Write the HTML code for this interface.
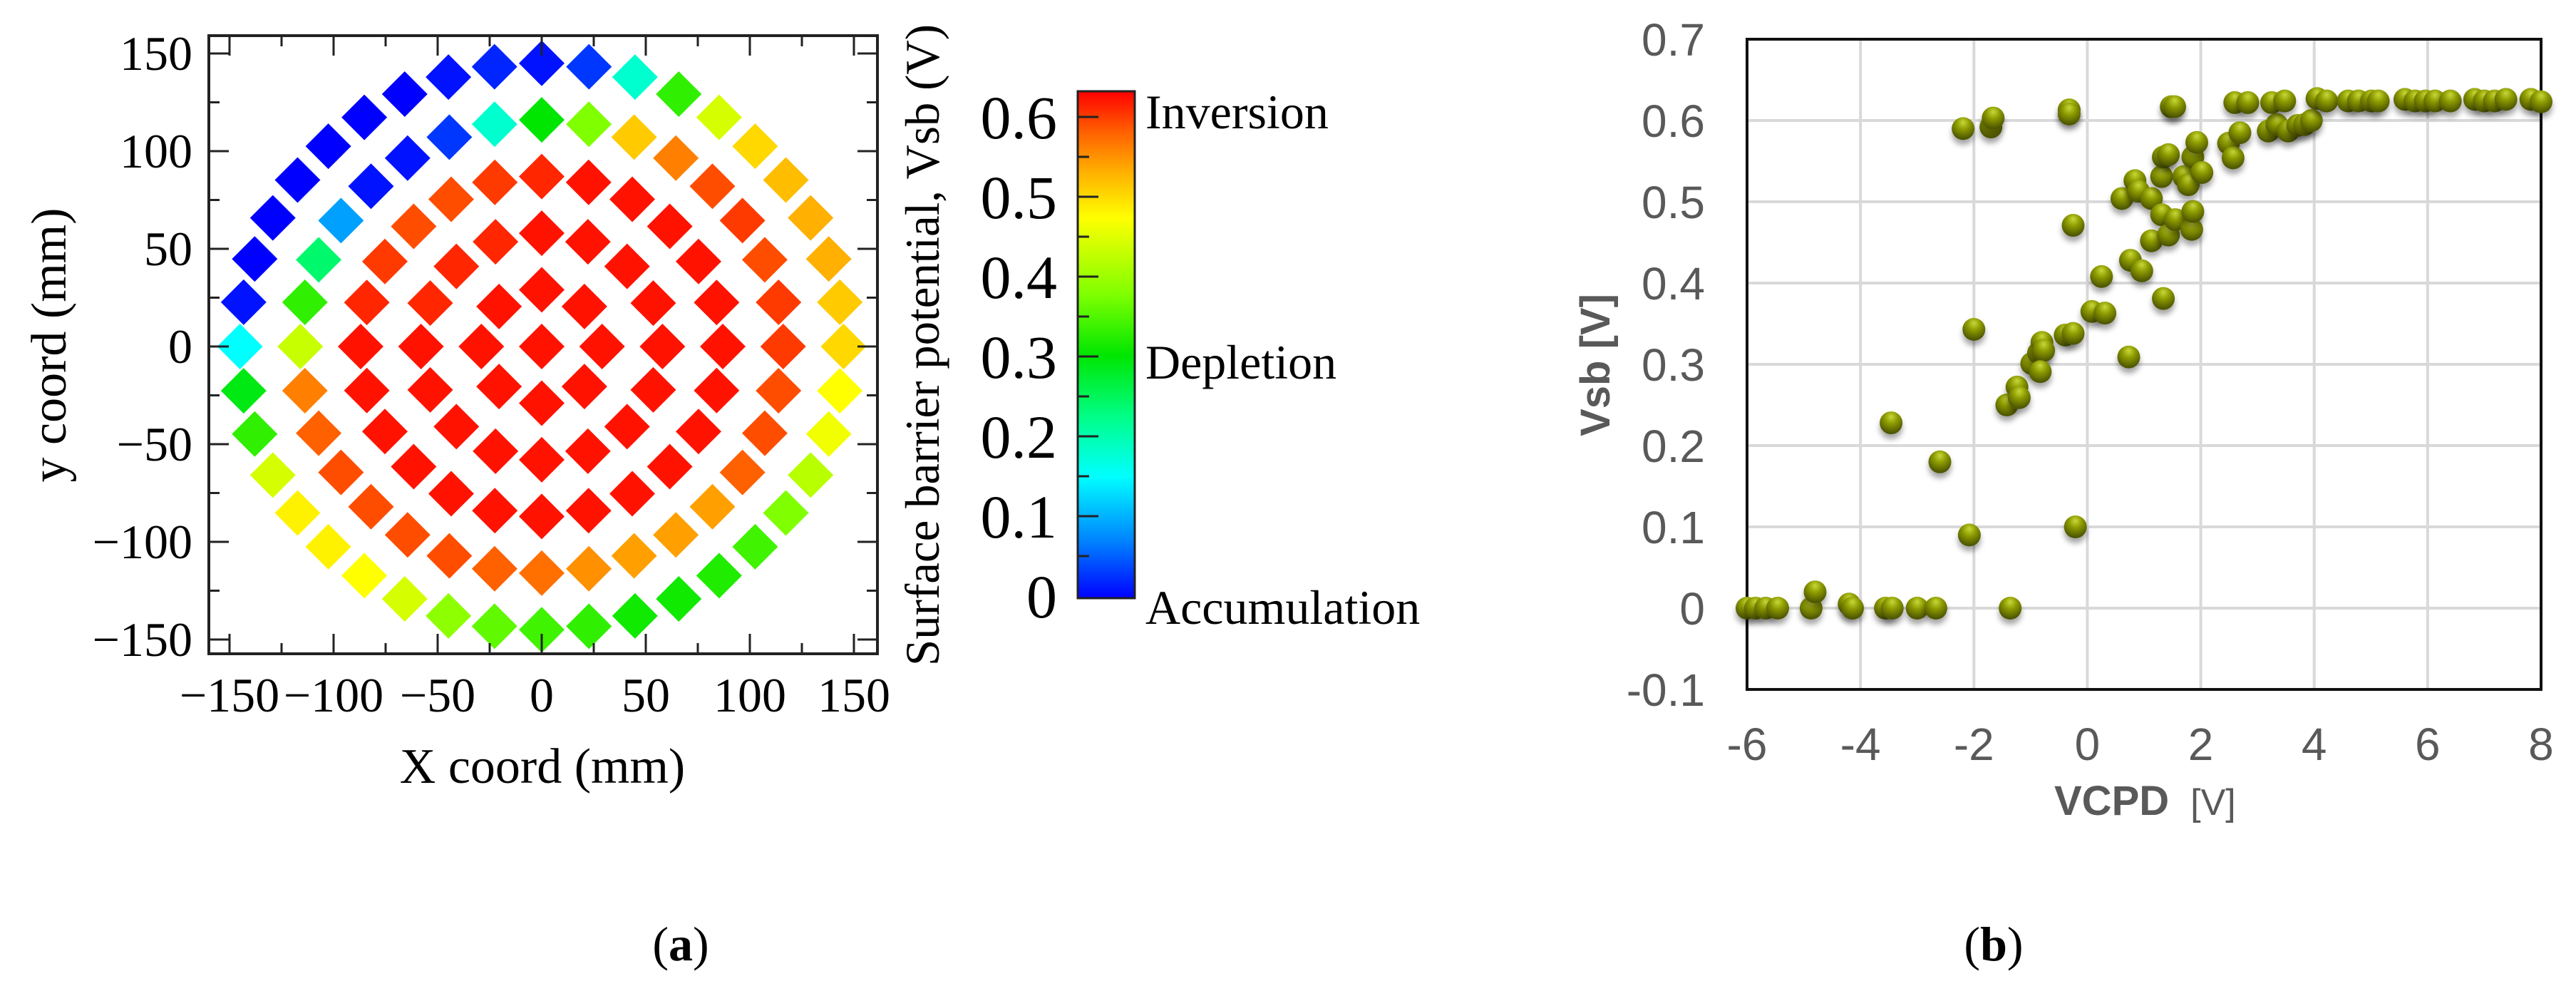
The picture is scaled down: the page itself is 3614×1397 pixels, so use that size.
<!DOCTYPE html>
<html><head><meta charset="utf-8"><style>
html,body{margin:0;padding:0;background:#fff;}
svg{display:block;}
</style></head><body>
<svg id="fig" xmlns="http://www.w3.org/2000/svg" width="3614" height="1397" viewBox="0 0 3614 1397">
<defs>
<linearGradient id="cbar" x1="0" y1="1" x2="0" y2="0">
<stop offset="0" stop-color="#0000ff"/><stop offset="0.11" stop-color="#0080ff"/>
<stop offset="0.24" stop-color="#00ffff"/><stop offset="0.35" stop-color="#00ff90"/>
<stop offset="0.48" stop-color="#00e600"/><stop offset="0.6" stop-color="#80ff00"/>
<stop offset="0.75" stop-color="#ffff00"/><stop offset="0.84" stop-color="#ffb000"/>
<stop offset="0.92" stop-color="#ff6000"/><stop offset="1" stop-color="#ff0000"/>
</linearGradient>
<radialGradient id="ball" cx="0.5" cy="0.3" r="0.65" fx="0.5" fy="0.22">
<stop offset="0" stop-color="#c8d838"/><stop offset="0.45" stop-color="#8c9a00"/>
<stop offset="1" stop-color="#4e5600"/>
</radialGradient>
<filter id="sh" x="-50%" y="-50%" width="200%" height="220%"><feDropShadow dx="0" dy="7" stdDeviation="4" flood-color="#000" flood-opacity="0.35"/></filter>
</defs>
<g id="left"></g>
<g id="right"></g>
<text x="955" y="1347" font-family="Liberation Serif, serif" font-size="68" text-anchor="middle">(<tspan font-weight="bold">a</tspan>)</text>
<text x="2797" y="1347" font-family="Liberation Serif, serif" font-size="68" text-anchor="middle">(<tspan font-weight="bold">b</tspan>)</text>
</svg>
<script>
// ---------- Panel (a) data: values per ring, angles start at 0°, CCW ----------
const ringRadii = [0, 29, 58, 87, 116, 145];
const ring0 = [0.62];
const ring1 = [0.62,0.62,0.62,0.62,0.62,0.62,0.62,0.62];
const ring2 = [0.62,0.62,0.62,0.62,0.62,0.61,0.61,0.61,0.62,0.62,0.62,0.62,0.62,0.62,0.62,0.62];
const ring3 = [0.62,0.62,0.62,0.62,0.62,0.62,0.61,0.6,0.59,0.59,0.6,0.61,0.62,0.62,0.62,0.62,0.62,0.62,0.62,0.62,0.62,0.62,0.62,0.62];
const ring4 = [0.6,0.6,0.59,0.6,0.59,0.56,0.51,0.38,0.3,0.18,0.03,0.01,0.01,0.09,0.24,0.33,0.43,0.56,0.58,0.59,0.59,0.59,0.59,0.58,0.57,0.55,0.54,0.54,0.54,0.58,0.59,0.59];
const ring5 = [0.5,0.51,0.53,0.53,0.52,0.5,0.44,0.33,0.18,0.03,0.01,0.02,0.01,0,0,0,0,0,0,0.01,0.15,0.29,0.33,0.44,0.48,0.48,0.47,0.44,0.39,0.36,0.34,0.33,0.31,0.31,0.32,0.34,0.38,0.42,0.46,0.47];
const ringValues = [ring0, ring1, ring2, ring3, ring4, ring5];
const axisTicksA = [-150,-100,-50,0,50,100,150];
const cbarTicks = [0,0.1,0.2,0.3,0.4,0.5,0.6];

// ---------- Panel (b) data ----------
const vcpd = [-6,-5.85,-5.67,-5.46,-4.87,-4.8,-4.2,-4.14,-3.56,-3.44,-3.0,-2.67,-1.36,-3.46,-2.6,-2.08,-0.21,-2.0,-2.19,-1.7,-1.66,-0.32,-0.32,-0.25,-1.42,-1.24,-1.2,-0.98,-0.86,-0.8,-0.77,-0.83,-0.39,-0.25,0.08,0.31,0.25,0.73,0.76,0.96,0.61,0.84,0.9,1.13,1.13,1.34,1.31,1.43,1.55,1.84,1.86,1.31,1.34,1.43,1.7,1.78,1.86,2.02,1.93,1.48,1.54,2.49,2.57,2.69,2.6,2.83,3.19,3.34,3.54,3.71,3.83,3.95,3.25,3.48,4.05,4.22,4.6,4.78,5.01,5.13,5.6,5.78,5.96,6.13,6.4,6.83,7.0,7.18,7.38,7.82,8.0];
const vsb = [0,0,0,0,0,0.02,0.005,0,0,0,0,0,0,0.228,0.18,0.09,0.1,0.343,0.59,0.592,0.603,0.613,0.608,0.471,0.25,0.272,0.259,0.301,0.314,0.327,0.317,0.291,0.336,0.338,0.365,0.363,0.408,0.309,0.428,0.415,0.504,0.526,0.513,0.504,0.452,0.381,0.484,0.459,0.478,0.466,0.488,0.531,0.555,0.558,0.531,0.521,0.555,0.536,0.573,0.617,0.617,0.572,0.554,0.585,0.622,0.622,0.587,0.595,0.587,0.594,0.595,0.6,0.622,0.624,0.627,0.624,0.624,0.624,0.624,0.624,0.626,0.624,0.624,0.624,0.624,0.626,0.624,0.624,0.626,0.626,0.623];
const xTicksB = [-6,-4,-2,0,2,4,6,8];
const yTicksB = [-0.1,0,0.1,0.2,0.3,0.4,0.5,0.6,0.7];

const NS = "http://www.w3.org/2000/svg";
function mk(tag, attrs, parent){ const e=document.createElementNS(NS,tag); for(const k in attrs) e.setAttribute(k,attrs[k]); parent.appendChild(e); return e; }

// colormap
const cmStops = [[0,[0,0,255]],[0.07,[0,128,255]],[0.15,[0,255,255]],[0.22,[0,255,144]],[0.3,[0,230,0]],[0.38,[128,255,0]],[0.47,[255,255,0]],[0.53,[255,176,0]],[0.58,[255,96,0]],[0.63,[255,0,0]]];
function cmap(v){
  if(v<=cmStops[0][0]) return 'rgb(0,0,255)';
  for(let i=1;i<cmStops.length;i++){ if(v<=cmStops[i][0]){ const a=cmStops[i-1],b=cmStops[i]; const t=(v-a[0])/(b[0]-a[0]); const c=a[1].map((x,j)=>Math.round(x+(b[1][j]-x)*t)); return `rgb(${c})`; } }
  return 'rgb(255,0,0)';
}

// ---------- Panel (a) ----------
const L = document.getElementById('left');
const xA = v => 760 + 2.92*v;
const yA = v => 486 - 2.74*v;
const FL=293, FR=1231, FT=50, FB=917;
const serif = "Liberation Serif, serif";
ringValues.forEach((vals, k) => {
  const n = vals.length;
  vals.forEach((v, i) => {
    const ang = (k===0?0:i*2*Math.PI/n);
    const X = ringRadii[k]*Math.cos(ang), Y = ringRadii[k]*Math.sin(ang);
    const cx = xA(X), cy = yA(Y), h = 32;
    const p = mk('polygon',{points:`${cx},${cy-h} ${cx+h},${cy} ${cx},${cy+h} ${cx-h},${cy}`, fill:cmap(v)}, L);
    
    
  });
});
const frameA = mk('rect',{x:FL,y:FT,width:FR-FL,height:FB-FT,fill:'none',stroke:'#222','stroke-width':4},L);
 
for(let v=-150; v<=150; v+=25){
  const major = v%50===0, len = major?28:15;
  const x=xA(v), y=yA(v);
  mk('line',{x1:x,y1:FB,x2:x,y2:FB-len,stroke:'#222','stroke-width':3},L);
  mk('line',{x1:x,y1:FT,x2:x,y2:FT+len,stroke:'#222','stroke-width':3},L);
  mk('line',{x1:FL,y1:y,x2:FL+len,y2:y,stroke:'#222','stroke-width':3},L);
  mk('line',{x1:FR,y1:y,x2:FR-len,y2:y,stroke:'#222','stroke-width':3},L);
}
axisTicksA.forEach(v=>{
  const lab = v<0?'\u2212'+Math.abs(v):String(v);
  const tx = mk('text',{x:xA(v),y:998,'font-family':serif,'font-size':68,'text-anchor':'middle'},L); tx.textContent=lab;
   
  const ty = mk('text',{x:270,y:yA(v)+23,'font-family':serif,'font-size':68,'text-anchor':'end'},L); ty.textContent=lab;
   
});
const xt = mk('text',{x:761,y:1098,'font-family':serif,'font-size':70,'text-anchor':'middle'},L); xt.textContent='X coord (mm)';
 
const yt = mk('text',{x:0,y:0,'font-family':serif,'font-size':70,'text-anchor':'middle',transform:'translate(92,484) rotate(-90)'},L); yt.textContent='y coord (mm)';
 
// colorbar
const cbY = v => 836 - 1120*v;
const cb = mk('rect',{x:1512,y:128,width:80,height:711,fill:'url(#cbar)',stroke:'#222','stroke-width':3},L);
 
for(let v=0.05; v<0.62; v+=0.05){
  const maj = Math.abs(v*10-Math.round(v*10))<0.01;
  mk('line',{x1:1513,y1:cbY(v),x2:1513+(maj?28:15),y2:cbY(v),stroke:'#222','stroke-width':3},L);
}
cbarTicks.forEach(v=>{
  const t = mk('text',{x:1483,y:cbY(v)+30,'font-family':serif,'font-size':86,'text-anchor':'end'},L); t.textContent = v===0?'0':v.toFixed(1);
   
});
[['Inversion',180,'inversion-label'],['Depletion',531,'depletion-label'],['Accumulation',875,'accumulation-label']].forEach(a=>{
  const t = mk('text',{x:1607,y:a[1],'font-family':serif,'font-size':68},L); t.textContent=a[0];
   
});
const ct = mk('text',{x:0,y:0,'font-family':serif,'font-size':68,'text-anchor':'middle',textLength:900,lengthAdjust:'spacingAndGlyphs',transform:'translate(1317,484) rotate(-90)'},L);
ct.textContent='Surface barrier potential, Vsb (V)';
 

// ---------- Panel (b) ----------
const R = document.getElementById('right');
const xB = v => 2451 + 79.57*(v+6);
const yB = v => 853 - 1140*v;
const sans = "Liberation Sans, sans-serif";
yTicksB.forEach(v=>{
  if(v>-0.1 && v<0.7){ const g=mk('line',{x1:2451,y1:yB(v),x2:3565,y2:yB(v),stroke:'#d9d9d9','stroke-width':4},R);   }
  const t = mk('text',{x:2392,y:yB(v)+23,'font-family':sans,'font-size':64,'text-anchor':'end',fill:'#595959'},R);
  t.textContent = v===0?'0':v.toFixed(1);
   
});
xTicksB.forEach(v=>{
  if(v>-6 && v<8){ const g=mk('line',{x1:xB(v),y1:55,x2:xB(v),y2:967,stroke:'#d9d9d9','stroke-width':4},R);   }
  const t = mk('text',{x:xB(v),y:1066,'font-family':sans,'font-size':64,'text-anchor':'middle',fill:'#595959'},R);
  t.textContent = String(v);
   
});
const fb = mk('rect',{x:2451,y:55,width:1114,height:912,fill:'none',stroke:'#111','stroke-width':4},R);
 
vcpd.forEach((x,i)=>{
  const c = mk('circle',{cx:xB(x),cy:yB(vsb[i]),r:16,fill:'url(#ball)',filter:'url(#sh)'},R);
  
  
});
const xl = mk('text',{x:2882,y:1143,'font-family':sans,'font-size':58,fill:'#595959'},R);
xl.innerHTML = '<tspan font-weight="bold">VCPD</tspan><tspan font-size="52" dx="30">[V]</tspan>';
 
const yl = mk('text',{x:0,y:0,'font-family':sans,'font-size':58,'font-weight':'bold','text-anchor':'middle',fill:'#595959',transform:'translate(2258,512) rotate(-90)'},R);
yl.textContent='Vsb [V]';
 
</script>
</body></html>
